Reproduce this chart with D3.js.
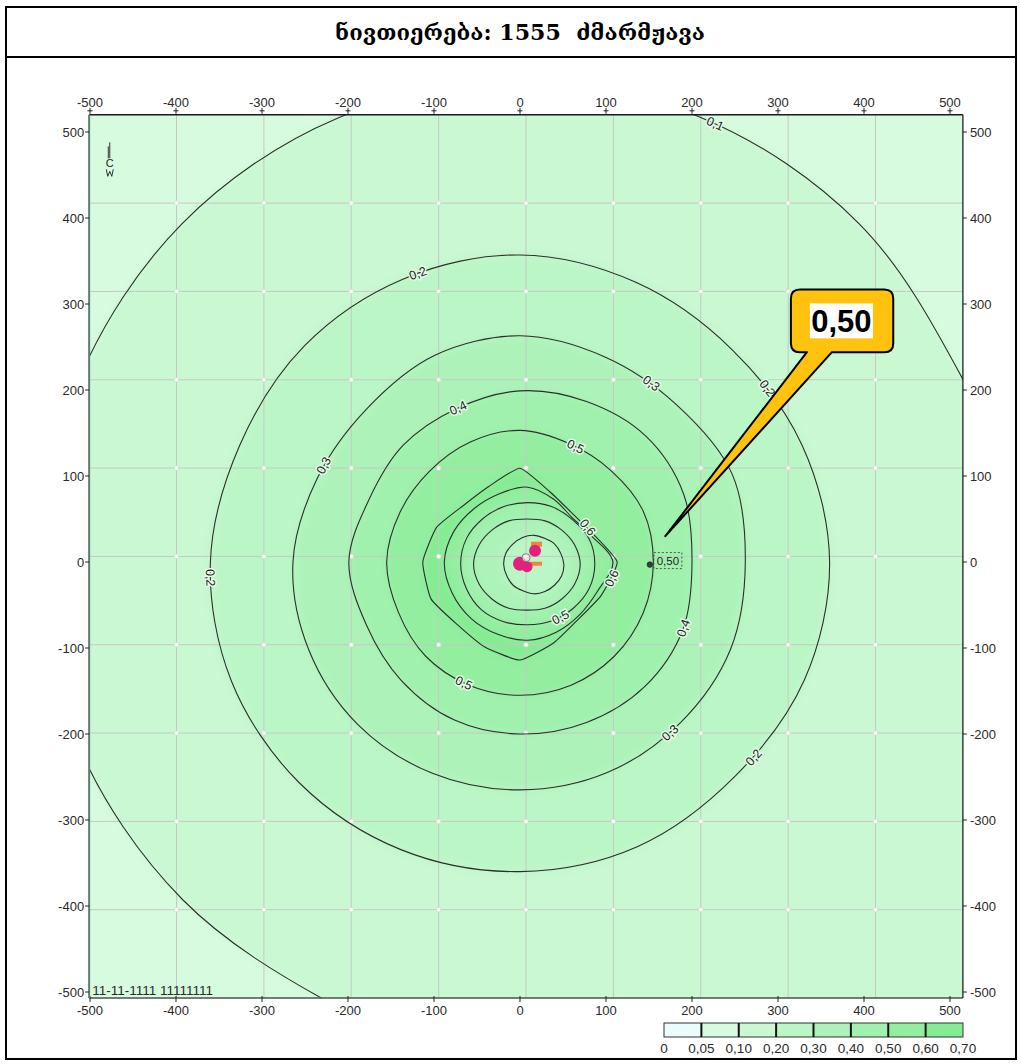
<!DOCTYPE html>
<html>
<head>
<meta charset="utf-8">
<script src="https://cdn.jsdelivr.net/npm/d3@7"></script>
<style>
  body { margin: 0; background: #fff; }
  text { font-family: "Liberation Sans", Arial, sans-serif; }
</style>
</head>
<body>
<svg id="chart" width="1021" height="1064"></svg>
<script>
// ---- data ---------------------------------------------------------------
const titleText = "ნივთიერება: 1555  ძმარმჟავა";
const xTicks = [-500, -400, -300, -200, -100, 0, 100, 200, 300, 400, 500];
const yTicks = [-500, -400, -300, -200, -100, 0, 100, 200, 300, 400, 500];
// calculation area (m)
const areaX = [-501, 515];
const areaY = [-507, 520];
const gridDivisions = 10;

// concentration scale (fractions of MPC)
const legendBreaks = [0, 0.05, 0.10, 0.20, 0.30, 0.40, 0.50, 0.60, 0.70];
const legendColors = ["#ebfdfa", "#d7fbdf", "#c9f8d2", "#bbf6c6", "#adf3b9", "#a0f1ad", "#93eea0", "#84ec92"];

// isolines: level, whether the field rises inward, centre (m), radius (m) every 22.5°
const isoDirections = d3.range(16).map(i => i * 22.5);
const isoLevels  = [0.1, 0.2, 0.3, 0.4, 0.5, 0.6, 0.6, 0.5, 0.4, 0.3];
const isoRising  = [true, true, true, true, true, true, false, false, false, false];
const isoSmooth  = [true, true, true, true, true, false, true, true, true, true];
const isoCenters = [[0, 0], [0, 0], [0, 0], [0, 0], [0, 0], [0, 0], [9, 0], [9, -2], [8, -3], [16, -3]];
const isoRadii = [
  [605, 557, 557, 558, 558, 558, 556, 555, 560, 556, 555, 559, 605, 698, 791, 698],
  [360, 355, 349, 352, 357, 356, 355, 353, 360, 363, 363, 362, 360, 358, 353, 358],
  [262, 267, 258, 258, 263, 260, 252, 255, 264, 266, 267, 266, 265, 265, 264, 265],
  [200, 206, 207, 202, 199, 193, 192, 190, 199, 193, 195, 199, 200, 202, 205, 205],
  [155, 155, 150, 149, 153, 151, 149, 151, 155, 153, 155, 155, 155, 155, 155, 155],
  [113,  90,  83,  89, 109,  95,  93, 105, 113, 112, 103, 107, 114, 102,  95, 102],
  [ 99,  80,  73,  79,  87,  86,  88,  93,  97,  95,  93,  91,  91,  88,  86,  88],
  [ 78,  77,  73,  72,  71,  72,  74,  77,  78,  77,  76,  73,  71,  72,  74,  77],
  [ 62,  60,  57,  55,  53,  55,  57,  60,  62,  60,  57,  55,  53,  55,  57,  60],
  [ 35,  34,  34,  33,  34,  34,  34,  35,  35,  34,  34,  33,  34,  34,  34,  35]
];
// isoline labels: [isoline index, direction in degrees]
const isoLabels = [
  [0, 66],
  [1, 109.5], [1, 35.1], [1, 182.9], [1, 320.1],
  [2, 53.7], [2, 153.8], [2, 311.3],
  [3, 111.9], [3, 338],
  [4, 64.3], [4, 245.1],
  [5, 27.2], [5, 350],
  [7, 301.5]
];

const sourcePoint = [7, 5];
const probePoint = [151, -3];
const probeValue = 0.50;
const calloutTip = [169, 30];
const calloutBox = { left: 315, top: 317, right: 434, bottom: 244 };
const northMarker = [-477, 488];
const stampText = "11-11-1111 11111111";

// ---- helpers ------------------------------------------------------------
const fmt = v => (v === 0 ? "0" : d3.format(".2f")(v).replace(".", ","));
const fmtIso = v => d3.format(".1f")(v).replace(".", ",");
const bandIndex = (level, rising) => {
  const i = legendBreaks.findIndex(b => Math.abs(b - level) < 1e-9);
  return rising ? i : i - 1;
};

const svg = d3.select("#chart");
const x = d3.scaleLinear().domain([-500, 500]).range([90, 950]);
const y = d3.scaleLinear().domain([-500, 500]).range([992, 132]);
const X0 = x(areaX[0]), X1 = x(areaX[1]);
const Y0 = y(areaY[1]), Y1 = y(areaY[0]);

function isoPoint(k, deg) {
  const r = isoRadii[k];
  const step = 22.5;
  const a = ((deg % 360) + 360) % 360;
  const i = Math.floor(a / step), t = a / step - i;
  const rad = r[i % 16] * (1 - t) + r[(i + 1) % 16] * t;
  const c = isoCenters[k];
  const th = a * Math.PI / 180;
  return [c[0] + rad * Math.cos(th), c[1] + rad * Math.sin(th)];
}
const isoPoints = k => isoDirections.map((d, j) => {
  const c = isoCenters[k], th = d * Math.PI / 180;
  return [x(c[0] + isoRadii[k][j] * Math.cos(th)), y(c[1] + isoRadii[k][j] * Math.sin(th))];
});
const smoothLine = d3.line().curve(d3.curveCatmullRomClosed.alpha(0.5));
const tightLine = d3.line().curve(d3.curveCardinalClosed.tension(0.55));
const isoPath = k => (isoSmooth[k] ? smoothLine : tightLine)(isoPoints(k));

// ---- frame & title ------------------------------------------------------
svg.append("rect").attr("x", 6).attr("y", 7).attr("width", 1010).attr("height", 1052)
  .attr("fill", "none").attr("stroke", "#000").attr("stroke-width", 2);
svg.append("line").attr("x1", 6).attr("x2", 1016).attr("y1", 57).attr("y2", 57)
  .attr("stroke", "#000").attr("stroke-width", 2);
const title = svg.append("text").text(titleText)
  .attr("x", 520).attr("y", 32).attr("text-anchor", "middle").attr("dominant-baseline", "central")
  .style("white-space", "pre")
  .style("font-family", "'DejaVu Serif', 'DejaVu Sans', serif").style("font-weight", "bold")
  .style("font-size", "22px").attr("fill", "#000");
const tw = title.node().getComputedTextLength();
if (tw > 0) title.style("font-size", (22 * 370 / tw).toFixed(2) + "px");

// ---- plot area ----------------------------------------------------------
const defs = svg.append("defs");
defs.append("clipPath").attr("id", "area-clip")
  .append("rect").attr("x", X0).attr("y", Y0).attr("width", X1 - X0).attr("height", Y1 - Y0);
defs.append("filter").attr("id", "soft").attr("x", "-5%").attr("y", "-5%").attr("width", "110%").attr("height", "110%")
  .append("feGaussianBlur").attr("stdDeviation", 4);

const fill = svg.append("g").attr("clip-path", "url(#area-clip)")
  .append("g").attr("filter", "url(#soft)");
fill.append("rect").attr("x", X0 - 30).attr("y", Y0 - 30)
  .attr("width", X1 - X0 + 60).attr("height", Y1 - Y0 + 60)
  .attr("fill", legendColors[1]);
fill.selectAll("path").data(isoLevels).join("path")
  .attr("d", (d, k) => isoPath(k))
  .attr("fill", (d, k) => legendColors[bandIndex(d, isoRising[k])]);

// grid of the calculation area
const gx = d3.range(1, gridDivisions).map(i => X0 + i * (X1 - X0) / gridDivisions);
const gy = d3.range(1, gridDivisions).map(i => Y0 + i * (Y1 - Y0) / gridDivisions);
const grid = svg.append("g");
grid.selectAll(".gv").data(gx).join("line").attr("class", "gv")
  .attr("x1", d => d).attr("x2", d => d).attr("y1", Y0).attr("y2", Y1)
  .attr("stroke", "#c3cac3").attr("stroke-width", 1);
grid.selectAll(".gh").data(gy).join("line").attr("class", "gh")
  .attr("y1", d => d).attr("y2", d => d).attr("x1", X0).attr("x2", X1)
  .attr("stroke", "#c3cac3").attr("stroke-width", 1);
grid.selectAll(".gd").data(d3.cross(gx, gy)).join("circle").attr("class", "gd")
  .attr("cx", d => d[0]).attr("cy", d => d[1]).attr("r", 2.3)
  .attr("fill", "#f6f8f6").attr("stroke", "#cfd6cf").attr("stroke-width", 0.6);

// isolines
const lines = svg.append("g").attr("clip-path", "url(#area-clip)");
lines.selectAll("path").data(isoLevels).join("path")
  .attr("d", (d, k) => isoPath(k))
  .attr("fill", "none").attr("stroke", "#2b2f2b").attr("stroke-width", 1.1)
  .attr("stroke-linejoin", "round");

// isoline labels
const labels = svg.append("g").attr("clip-path", "url(#area-clip)");
isoLabels.forEach(([k, deg]) => {
  const p = isoPoint(k, deg);
  const a = isoPoint(k, deg - 2), b = isoPoint(k, deg + 2);
  let rot = Math.atan2(y(b[1]) - y(a[1]), x(b[0]) - x(a[0])) * 180 / Math.PI;
  if (rot > 90) rot -= 180;
  if (rot < -90) rot += 180;
  labels.append("text").text(fmtIso(isoLevels[k]))
    .attr("transform", `translate(${x(p[0])},${y(p[1])}) rotate(${rot})`)
    .attr("text-anchor", "middle").attr("dy", "0.35em")
    .attr("font-size", 12.5).attr("fill", "#1e1e1e")
    .attr("stroke", "#e4fbe6").attr("stroke-width", 3).attr("paint-order", "stroke")
    .attr("stroke-linejoin", "round");
});

// ---- axes ---------------------------------------------------------------
const axisText = { size: 13, fill: "#2a2a2a" };
const axes = svg.append("g");
// top
axes.append("line").attr("x1", X0).attr("x2", X1).attr("y1", Y0).attr("y2", Y0)
  .attr("stroke", "#1a1a1a").attr("stroke-width", 1.5);
axes.selectAll(".tt").data(xTicks).join("path").attr("class", "tt")
  .attr("d", d => `M${x(d)},${Y0 - 7}V${Y0 - 1}M${x(d) - 2.5},${Y0 - 4}H${x(d) + 2.5}`)
  .attr("stroke", "#222").attr("stroke-width", 1);
axes.selectAll(".tl").data(xTicks).join("text").attr("class", "tl")
  .attr("x", d => x(d)).attr("y", Y0 - 8).attr("text-anchor", "middle")
  .attr("font-size", axisText.size).attr("fill", axisText.fill).text(d => d);
// bottom
axes.append("line").attr("x1", X0).attr("x2", X1).attr("y1", Y1).attr("y2", Y1)
  .attr("stroke", "#4a554d").attr("stroke-width", 1.5);
axes.selectAll(".bt").data(xTicks).join("path").attr("class", "bt")
  .attr("d", d => `M${x(d)},${Y1 - 2}V${Y1 + 4}`)
  .attr("stroke", "#222").attr("stroke-width", 1);
axes.selectAll(".bl").data(xTicks).join("text").attr("class", "bl")
  .attr("x", d => x(d)).attr("y", Y1 + 17).attr("text-anchor", "middle")
  .attr("font-size", axisText.size).attr("fill", axisText.fill).text(d => d);
// left
axes.append("line").attr("x1", X0).attr("x2", X0).attr("y1", Y0).attr("y2", Y1)
  .attr("stroke", "#5f7d6b").attr("stroke-width", 2);
axes.selectAll(".lt").data(yTicks).join("path").attr("class", "lt")
  .attr("d", d => `M${X0 - 4},${y(d)}H${X0}`)
  .attr("stroke", "#222").attr("stroke-width", 1);
axes.selectAll(".ll").data(yTicks).join("text").attr("class", "ll")
  .attr("x", X0 - 5).attr("y", d => y(d)).attr("dy", "0.35em").attr("text-anchor", "end")
  .attr("font-size", axisText.size).attr("fill", axisText.fill).text(d => d);
// right
axes.append("line").attr("x1", X1).attr("x2", X1).attr("y1", Y0).attr("y2", Y1)
  .attr("stroke", "#111").attr("stroke-width", 1.2);
axes.selectAll(".rt").data(yTicks).join("path").attr("class", "rt")
  .attr("d", d => `M${X1},${y(d)}H${X1 + 4}`)
  .attr("stroke", "#222").attr("stroke-width", 1);
axes.selectAll(".rl").data(yTicks).join("text").attr("class", "rl")
  .attr("x", X1 + 7).attr("y", d => y(d)).attr("dy", "0.35em").attr("text-anchor", "start")
  .attr("font-size", axisText.size).attr("fill", axisText.fill).text(d => d);

// calculation stamp
svg.append("text").attr("x", X0 + 3).attr("y", Y1 - 3)
  .attr("font-size", 13.5).attr("fill", "#2a2a2a").text(stampText);

// north marker
{
  const nx = x(northMarker[0]), ny = y(northMarker[1]);
  const g = svg.append("g").attr("stroke", "#333").attr("fill", "none").attr("stroke-width", 1);
  g.append("path").attr("d", `M${nx},${ny}V${ny + 16}M${nx - 1.5},${ny + 4}V${ny + 16}`);
  g.append("text").attr("x", nx).attr("y", ny + 25).attr("text-anchor", "middle")
    .attr("font-size", 11).attr("stroke", "none").attr("fill", "#222").text("С");
  g.append("path").attr("d", `M${nx - 3.5},${ny + 27}L${nx - 2},${ny + 34}L${nx},${ny + 29}L${nx + 2},${ny + 34}L${nx + 3.5},${ny + 27}`);
}

// emission source
{
  const sx = x(sourcePoint[0]), sy = y(sourcePoint[1]);
  const g = svg.append("g").attr("transform", `translate(${sx},${sy})`);
  g.append("rect").attr("x", 5).attr("y", -16).attr("width", 11).attr("height", 5).attr("fill", "#f2843a");
  g.append("rect").attr("x", 4).attr("y", 4).attr("width", 12).attr("height", 4).attr("fill", "#f2843a");
  g.append("circle").attr("cx", -6).attr("cy", 6).attr("r", 7).attr("fill", "#e2217f");
  g.append("circle").attr("cx", 1).attr("cy", 9).attr("r", 5.5).attr("fill", "#e2217f");
  g.append("circle").attr("cx", 9).attr("cy", -7).attr("r", 6).attr("fill", "#e2217f");
  g.append("circle").attr("cx", 0).attr("cy", 0).attr("r", 4)
    .attr("fill", "#f4e6ee").attr("fill-opacity", 0.7).attr("stroke", "#6b6b6b").attr("stroke-width", 0.8);
}

// probe point with its value
{
  const px = x(probePoint[0]), py = y(probePoint[1]);
  svg.append("circle").attr("cx", px).attr("cy", py).attr("r", 2.8)
    .attr("fill", "#3a3a3a").attr("stroke", "#222").attr("stroke-width", 0.6);
  svg.append("rect").attr("x", px + 4).attr("y", py - 12).attr("width", 28).attr("height", 16)
    .attr("fill", "none").attr("stroke", "#333").attr("stroke-width", 0.8).attr("stroke-dasharray", "2,2");
  svg.append("text").attr("x", px + 18).attr("y", py - 4).attr("dy", "0.35em").attr("text-anchor", "middle")
    .attr("font-size", 11.5).attr("fill", "#222").text(fmt(probeValue));
}

// callout
{
  const L = x(calloutBox.left), R = x(calloutBox.right), T = y(calloutBox.top), B = y(calloutBox.bottom);
  const tx = x(calloutTip[0]), ty = y(calloutTip[1]);
  const r = 9;
  const d = `M${L + r},${T}H${R - r}Q${R},${T} ${R},${T + r}V${B - r}Q${R},${B} ${R - r},${B}` +
            `H${L + 41}L${tx},${ty}L${L + 16},${B}H${L + r}Q${L},${B} ${L},${B - r}V${T + r}Q${L},${T} ${L + r},${T}Z`;
  svg.append("path").attr("d", d).attr("fill", "#ffc20e").attr("stroke", "#000")
    .attr("stroke-width", 2).attr("stroke-linejoin", "round");
  svg.append("rect").attr("x", L + 19).attr("y", T + 14).attr("width", 63).attr("height", 35).attr("fill", "#fff");
  svg.append("text").attr("x", L + 50.5).attr("y", T + 31.5).attr("dy", "0.36em").attr("text-anchor", "middle")
    .style("font-family", "'Liberation Sans Narrow', 'Liberation Sans', Arial, sans-serif")
    .style("font-weight", "bold").style("font-size", "31px").attr("fill", "#000").text(fmt(probeValue));
}

// ---- legend -------------------------------------------------------------
{
  const lx = d3.scaleLinear().domain([0, legendColors.length]).range([664, 963]);
  const ly = 1023, lh = 14;
  const g = svg.append("g");
  g.selectAll("rect").data(legendColors).join("rect")
    .attr("x", (d, i) => lx(i)).attr("y", ly).attr("width", (d, i) => lx(i + 1) - lx(i)).attr("height", lh)
    .attr("fill", d => d);
  g.append("rect").attr("x", lx(0)).attr("y", ly).attr("width", lx(legendColors.length) - lx(0)).attr("height", lh)
    .attr("fill", "none").attr("stroke", "#333").attr("stroke-width", 1);
  g.selectAll(".div").data(d3.range(1, legendColors.length)).join("line").attr("class", "div")
    .attr("x1", i => lx(i)).attr("x2", i => lx(i)).attr("y1", ly).attr("y2", ly + lh)
    .attr("stroke", "#111").attr("stroke-width", 2);
  g.selectAll("text").data(legendBreaks).join("text")
    .attr("x", (d, i) => lx(i)).attr("y", ly + 30).attr("text-anchor", "middle")
    .attr("font-size", 13.5).attr("fill", "#2a2a2a").text(d => fmt(d));
}
</script>
</body>
</html>
